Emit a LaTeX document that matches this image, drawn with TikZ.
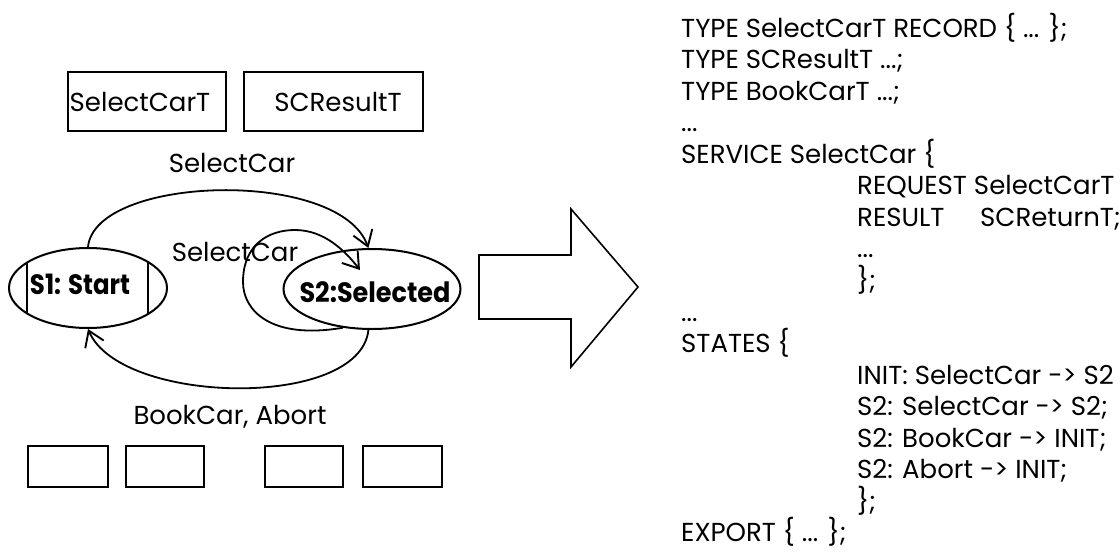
\documentclass[tikz,border=0pt]{standalone}
\usepackage{fontspec}
\usepackage{graphicx}
\setmainfont{Poppins}
\usetikzlibrary{arrows.meta,shapes.geometric}
\tikzset{
  txt/.style={inner sep=0pt, font=\fontsize{26}{30}\selectfont},
  btxt/.style={inner sep=0pt, font=\fontsize{28}{32}\selectfont\bfseries},
  code/.style={txt, anchor=base west},
  tbox/.style={draw, line width=2pt, inner sep=0pt},
  st/.style={draw, ellipse, line width=2pt, inner sep=0pt},
  tr/.style={line width=1.8pt, -{Straight Barb[length=15pt,width=20pt,line width=1.9pt]}},
}
\begin{document}
\begin{tikzpicture}[x=1pt,y=-1pt]
\useasboundingbox (0,0) rectangle (1120,554);
% type boxes
\node[tbox, minimum width=158pt, minimum height=59pt] (bsel) at (147,101.5) {};
\node[txt] (tsel) at (140,102) {SelectCarT};
\node[tbox, minimum width=179pt, minimum height=59pt] (bres) at (333.5,101.5) {};
\node[txt] (tres) at (338,102) {SCResultT};
\node[txt] (lsel) at (232,163) {SelectCar};
% states
\node[st, minimum width=158pt, minimum height=80pt] (s1) at (88,288) {};
\node[btxt] (s1t) at (80,284) {\resizebox{100pt}{\height}{S1: Start}};
\begin{scope}
\clip (88,288) ellipse [x radius=79, y radius=40];
\draw[line width=2pt] (27,240) -- (27,340) (148,240) -- (148,340);
\end{scope}
\node[st, minimum width=177pt, minimum height=80pt] (s2) at (372,289) {};
\node[btxt] (s2t) at (375,292) {\resizebox{151pt}{\height}{S2:Selected}};
% transitions
\draw[tr] (s1.north) .. controls (95,175) and (340,168) .. (s2.95);
\coordinate (lp) at (360,270);
\draw[tr] (s2.-127) .. controls (270,340) and (243,310) .. (243,282)
   .. controls (243,245) and (268,230) .. (295,230)
   .. controls (325,230) and (346,252) .. (lp);
\node[txt] (lmid) at (235,252) {SelectCar};
\draw[tr] (s2.-95) .. controls (360,410) and (120,405) .. (s1.south);
\node[txt] (lbot) at (230,417) {BookCar, Abort};
% empty boxes
\node[tbox, minimum width=80pt, minimum height=41pt] (e1) at (68,466.5) {};
\node[tbox, minimum width=78pt, minimum height=41pt] (e2) at (165,466.5) {};
\node[tbox, minimum width=78pt, minimum height=41pt] (e3) at (304,466.5) {};
\node[tbox, minimum width=79pt, minimum height=41pt] (e4) at (402.5,466.5) {};
% big arrow
\draw[line width=1.6pt, line join=miter] (479,255) -- (571,255) -- (571,209) -- (638,287)
  -- (571,367) -- (571,319) -- (479,319) -- cycle;
% code
\node[code] (c1) at (681,37) {TYPE SelectCarT RECORD \{ ... \};};
\node[code] (c2) at (681,37+1*31.56) {TYPE SCResultT ...;};
\node[code] (c3) at (681,37+2*31.56) {TYPE BookCarT ...;};
\node[code] (c4) at (681,37+3*31.56) {...};
\node[code] (c5) at (681,37+4*31.56) {SERVICE SelectCar \{};
\node[code] (c6) at (857,37+5*31.56) {REQUEST SelectCarT};
\node[code] (c7) at (857,37+6*31.56) {RESULT};
\node[code] (c7b) at (980,37+6*31.56) {SCReturnT;};
\node[code] (c8) at (857,37+7*31.56) {...};
\node[code] (c9) at (857,37+8*31.56) {\};};
\node[code] (c10) at (681,37+9*31.56) {...};
\node[code] (c11) at (681,37+10*31.56) {STATES \{};
\node[code] (c12) at (857,37+11*31.56) {INIT: SelectCar -> S2};
\node[code] (c13) at (857,37+12*31.56) {S2: SelectCar -> S2;};
\node[code] (c14) at (857,37+13*31.56) {S2: BookCar -> INIT;};
\node[code] (c15) at (857,37+14*31.56) {S2: Abort -> INIT;};
\node[code] (c16) at (857,37+15*31.56) {\};};
\node[code] (c17) at (681,37+16*31.56) {EXPORT \{ ... \};};
\end{tikzpicture}
\end{document}
